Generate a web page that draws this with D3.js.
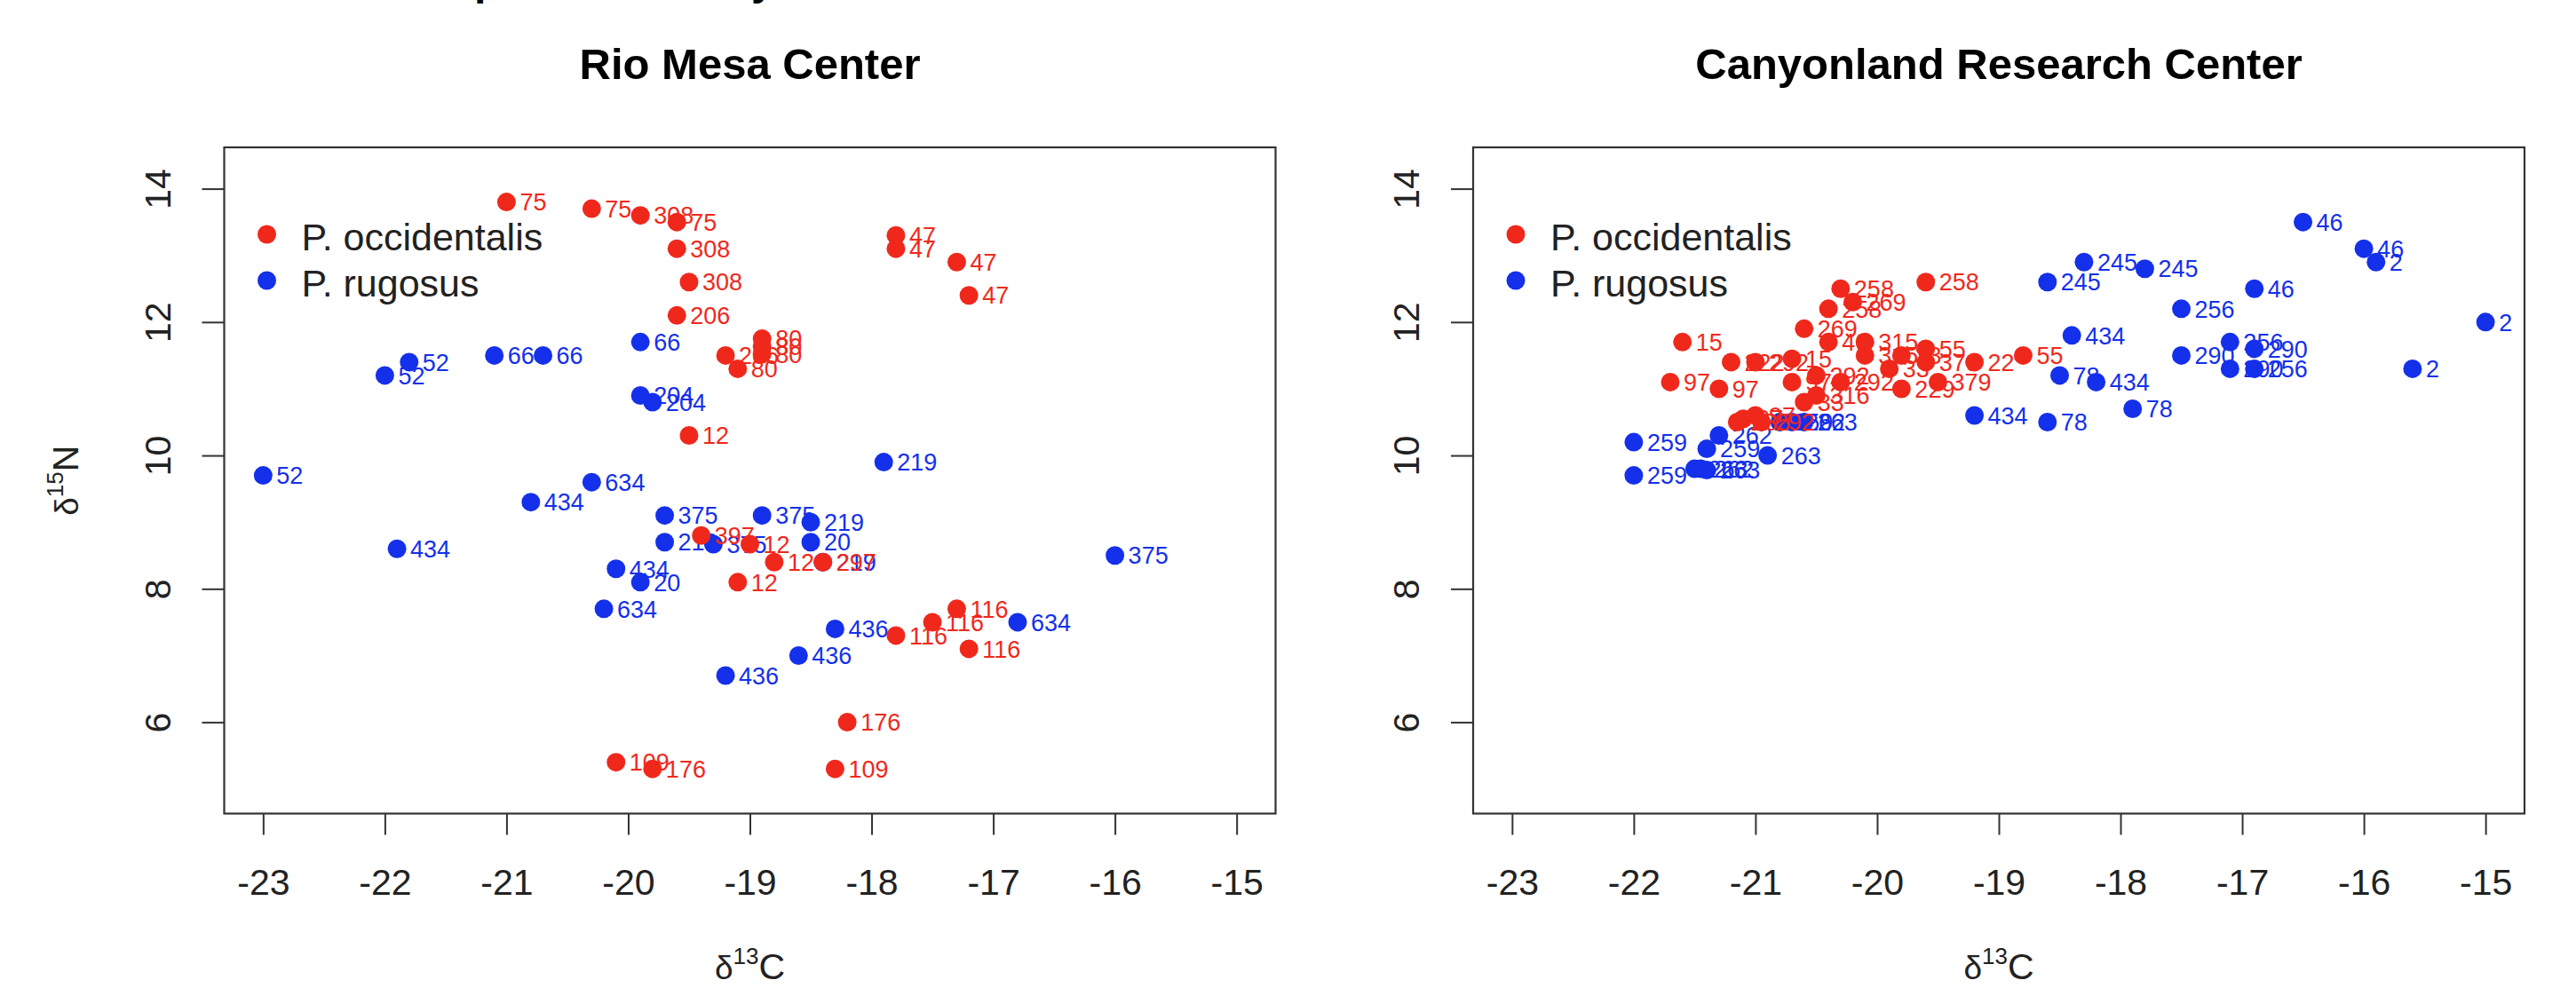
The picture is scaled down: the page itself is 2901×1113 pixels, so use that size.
<!DOCTYPE html>
<html>
<head>
<meta charset="utf-8">
<script src="https://cdn.jsdelivr.net/npm/d3@7"></script>
<style>
  body { margin: 0; background: #fff; }
  svg { display: block; font-family: "Liberation Sans", Arial, Helvetica, sans-serif; }
</style>
</head>
<body>
<svg id="vis"></svg>
<script>
// values: [d13C, d15N, specimen label]
const rioOcc = [
  [-21.0, 13.8, "75"], [-20.3, 13.7, "75"], [-19.9, 13.6, "308"], [-19.6, 13.5, "75"],
  [-17.8, 13.3, "47"], [-17.8, 13.1, "47"], [-17.3, 12.9, "47"], [-17.2, 12.4, "47"],
  [-19.6, 13.1, "308"], [-19.5, 12.6, "308"], [-19.6, 12.1, "206"],
  [-19.2, 11.5, "206"], [-18.9, 11.75, "80"], [-18.9, 11.63, "80"], [-18.9, 11.52, "80"],
  [-19.1, 11.3, "80"], [-19.5, 10.3, "12"],
  [-18.4, 8.4, "297"], [-19.4, 8.8, "397"], [-19.0, 8.67, "12"], [-18.8, 8.4, "12"],
  [-19.1, 8.1, "12"], [-17.3, 7.7, "116"], [-17.5, 7.5, "116"], [-17.8, 7.3, "116"],
  [-17.2, 7.1, "116"], [-18.2, 6.0, "176"], [-20.1, 5.4, "109"], [-19.8, 5.3, "176"],
  [-18.3, 5.3, "109"]
]
const rioRug = [
  [-19.9, 11.7, "66"], [-21.1, 11.5, "66"], [-20.7, 11.5, "66"], [-21.8, 11.4, "52"],
  [-22.0, 11.2, "52"], [-19.9, 10.9, "204"], [-19.8, 10.8, "204"], [-17.9, 9.9, "219"],
  [-23.0, 9.7, "52"], [-20.3, 9.6, "634"], [-20.8, 9.3, "434"], [-19.7, 9.1, "375"],
  [-18.9, 9.1, "375"], [-18.5, 9.0, "219"], [-21.9, 8.6, "434"], [-19.7, 8.7, "219"],
  [-19.3, 8.67, "375"], [-18.5, 8.7, "20"], [-18.4, 8.4, "219"], [-16.0, 8.5, "375"],
  [-20.1, 8.3, "434"], [-19.9, 8.1, "20"], [-20.2, 7.7, "634"], [-16.8, 7.5, "634"],
  [-18.3, 7.4, "436"], [-18.6, 7.0, "436"], [-19.2, 6.7, "436"]
]
const canOcc = [
  [-21.6, 11.7, "15"], [-21.7, 11.1, "97"], [-21.3, 11.0, "97"], [-21.2, 11.4, "222"],
  [-21.0, 11.4, "292"], [-20.7, 11.45, "15"], [-20.7, 11.1, "97"], [-20.6, 11.9, "269"],
  [-20.4, 12.2, "258"], [-20.3, 12.5, "258"], [-20.2, 12.3, "269"], [-19.6, 12.6, "258"],
  [-20.4, 11.7, "40"], [-20.1, 11.7, "315"], [-20.1, 11.5, "315"], [-19.8, 11.5, "33"],
  [-19.6, 11.6, "55"], [-19.6, 11.4, "379"], [-19.2, 11.4, "22"], [-18.8, 11.5, "55"],
  [-19.9, 11.3, "33"], [-20.5, 11.2, "292"], [-20.3, 11.1, "292"], [-19.8, 11.0, "229"],
  [-19.5, 11.1, "379"], [-20.5, 10.9, "316"], [-20.6, 10.8, "33"], [-21.1, 10.55, "97"],
  [-21.0, 10.6, "97"], [-21.15, 10.5, "285"], [-20.95, 10.5, "292"]
]
const canRug = [
  [-16.5, 13.5, "46"], [-16.0, 13.1, "46"], [-15.9, 12.9, "2"], [-18.3, 12.9, "245"],
  [-17.8, 12.8, "245"], [-18.6, 12.6, "245"], [-16.9, 12.5, "46"], [-17.5, 12.2, "256"],
  [-15.0, 12.0, "2"], [-18.4, 11.8, "434"], [-17.1, 11.7, "256"], [-17.5, 11.5, "290"],
  [-16.9, 11.6, "290"], [-17.1, 11.3, "290"], [-16.9, 11.3, "256"], [-15.6, 11.3, "2"],
  [-18.5, 11.2, "78"], [-18.2, 11.1, "434"], [-17.9, 10.7, "78"], [-19.2, 10.6, "434"],
  [-18.6, 10.5, "78"], [-22.0, 10.2, "259"], [-22.0, 9.7, "259"], [-21.3, 10.3, "262"],
  [-21.4, 10.1, "259"], [-20.9, 10.0, "263"], [-21.5, 9.8, "263"], [-21.45, 9.8, "262"],
  [-21.4, 9.78, "263"], [-20.8, 10.5, "259"], [-20.7, 10.5, "262"], [-20.6, 10.5, "263"]
]
const xTicks = [-23, -22, -21, -20, -19, -18, -17, -16, -15]
const yTicks = [6, 8, 10, 12, 14]
const xLim = [-23, -15]
const yLim = [5, 14.25]
const species = ["P. occidentalis", "P. rugosus"]

const red = "#f0281c", blue = "#1430ea"
const W = 2901, H = 1113
const plotTop = 166, plotBottom = 916.5, plotW = 1184

const svg = d3.select("#vis").attr("width", W).attr("height", H)
svg.append("rect").attr("width", W).attr("height", H).attr("fill", "#fff")

// descenders of a heading cropped off the top edge
svg.append("g").attr("font-weight", "bold").attr("font-size", 48).attr("fill", "#000")
  .selectAll("text").data([[534, "p"], [846, "y"]]).join("text")
  .attr("x", d => d[0]).attr("y", -6).text(d => d[1])

// R style 4% axis expansion
function expand(lim) {
  const p = (lim[1] - lim[0]) * 0.04
  return [lim[0] - p, lim[1] + p]
}

function deltaLabel(sel, sup, letter) {
  sel.append("tspan").attr("font-size", 37).text("δ")
  sel.append("tspan").attr("font-size", 26).attr("dy", -17).text(sup)
  sel.append("tspan").attr("font-size", 41).attr("dy", 17).text(letter)
}

function drawPanel(left, title, occ, rug, withYLab) {
  const x = d3.scaleLinear().domain(expand(xLim)).range([left, left + plotW])
  const y = d3.scaleLinear().domain(expand(yLim)).range([plotBottom, plotTop])
  const g = svg.append("g")

  g.append("text")
    .attr("x", left + plotW / 2).attr("y", 89)
    .attr("text-anchor", "middle").attr("font-weight", "bold").attr("font-size", 49)
    .text(title)

  // x axis
  const xa = g.append("g")
    .attr("transform", `translate(0,${plotBottom})`)
    .call(d3.axisBottom(x).tickValues(xTicks).tickSize(24).tickPadding(38).tickFormat(d => String(d)))
  xa.select(".domain").remove()
  xa.selectAll("line").attr("stroke", "#333").attr("stroke-width", 2)
  xa.selectAll("text").attr("font-size", 41).attr("fill", "#222")
    .attr("font-family", "'Liberation Sans', Arial, sans-serif")

  // y axis, labels parallel to the axis
  const ya = g.append("g")
    .attr("transform", `translate(${left},0)`)
    .call(d3.axisLeft(y).tickValues(yTicks).tickSize(25))
  ya.select(".domain").remove()
  ya.selectAll("line").attr("stroke", "#333").attr("stroke-width", 2)
  ya.selectAll("text")
    .attr("x", null).attr("dy", null)
    .attr("transform", "translate(-61,0) rotate(-90)")
    .attr("text-anchor", "middle").attr("font-size", 41).attr("fill", "#222")
    .attr("font-family", "'Liberation Sans', Arial, sans-serif")

  g.append("rect")
    .attr("x", left).attr("y", plotTop)
    .attr("width", plotW).attr("height", plotBottom - plotTop)
    .attr("fill", "none").attr("stroke", "#333").attr("stroke-width", 2.2)

  const xl = g.append("text")
    .attr("x", left + plotW / 2).attr("y", 1103)
    .attr("text-anchor", "middle").attr("fill", "#222")
  deltaLabel(xl, "13", "C")

  if (withYLab) {
    const yl = g.append("text")
      .attr("transform", `translate(88,${(plotTop + plotBottom) / 2}) rotate(-90)`)
      .attr("text-anchor", "middle").attr("fill", "#222")
    deltaLabel(yl, "15", "N")
  }

  // points: P. rugosus first, P. occidentalis on top
  const series = [[rug, blue], [occ, red]]
  series.forEach(([data, col]) => {
    g.append("g").selectAll("circle").data(data).join("circle")
      .attr("cx", d => x(d[0])).attr("cy", d => y(d[1]))
      .attr("r", 10.5).attr("fill", col)
    g.append("g").selectAll("text").data(data).join("text")
      .attr("x", d => x(d[0]) + 15).attr("y", d => y(d[1]))
      .attr("dy", "0.36em").attr("font-size", 27).attr("fill", col)
      .text(d => d[2])
  })

  // legend
  const lg = g.append("g")
  lg.selectAll("circle").data(species).join("circle")
    .attr("cx", left + 48).attr("cy", (d, i) => 264 + i * 52)
    .attr("r", 10.5).attr("fill", (d, i) => i === 0 ? red : blue)
  lg.selectAll("text").data(species).join("text")
    .attr("x", left + 87).attr("y", (d, i) => 282 + i * 52)
    .attr("font-size", 43).attr("fill", "#222")
    .text(d => d)
}

drawPanel(252.5, "Rio Mesa Center", rioOcc, rioRug, true)
drawPanel(1659, "Canyonland Research Center", canOcc, canRug, false)
</script>
</body>
</html>
